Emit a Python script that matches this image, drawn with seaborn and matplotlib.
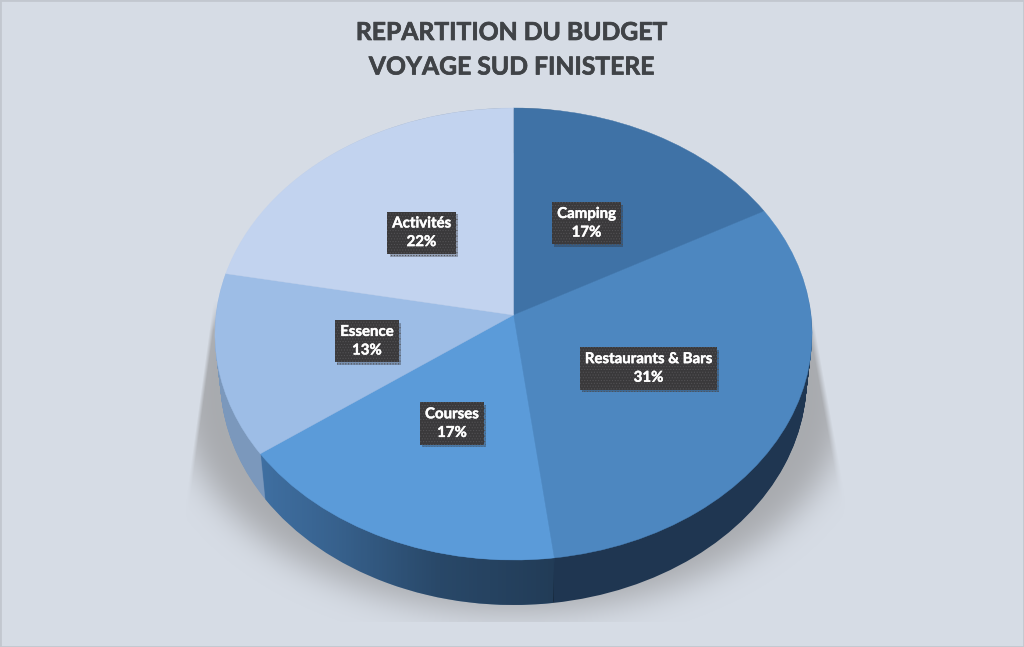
import numpy as np
import matplotlib
matplotlib.use("Agg")
import matplotlib.pyplot as plt
import matplotlib.patheffects as pe
from matplotlib.path import Path
from matplotlib.patches import PathPatch, Rectangle
from matplotlib.transforms import Transform
import seaborn as sns

title_lines = ["REPARTITION DU BUDGET", "VOYAGE SUD FINISTERE"]
categories = ["Camping", "Restaurants & Bars", "Courses", "Essence", "Activités"]
values = [17, 31, 17, 13, 22]
top_colors = ["#3f72a6", "#4d87c0", "#5b9bd9", "#9dbde6", "#c2d3ef"]
side_colors = ["#1f3651", "#1f3651", "#3f6fa1", "#7b98bc", "#a0b4cf"]

sns.set_theme(style="white")
plt.rcParams["font.family"] = ["Lato", "DejaVu Sans"]
plt.rcParams["hatch.linewidth"] = 0.5

BG = "#d6dce5"
W, H = 1024, 647
fig = plt.figure(figsize=(W / 100, H / 100), dpi=100, facecolor=BG)
ax = fig.add_axes([0, 0, 1, 1])
ax.set_axis_off()


class Persp(Transform):
    """Tilted-disc projection: unit pie -> image pixels."""
    input_dims = output_dims = 2
    is_separable = False
    has_inverse = False

    def __init__(self, dy=0.0, sx=1.0):
        super().__init__()
        self.dy, self.sx = dy, sx

    def transform_non_affine(self, v):
        v = np.asarray(v, float)
        w = 1 + 0.0841 * v[:, 1]
        return np.column_stack([513.5 + 297.5 * self.sx * v[:, 0] / w,
                                315 + self.dy - 224.4 * v[:, 1] / w])


top = Persp()
DEPTH = 45
SHRINK = 0.018

# soft ground shadow, cut by slanted edges at both sides
yy, xx = np.mgrid[0:H, 0:W]
mask = (((xx - 513) / 335.0) ** 2 + ((yy - 392) / 220.0) ** 2 < 1).astype(float)
k = np.ones(31) / 31
for _ in range(3):
    mask = np.apply_along_axis(lambda r: np.convolve(r, k, "same"), 0, mask)
    mask = np.apply_along_axis(lambda r: np.convolve(r, k, "same"), 1, mask)
left_edge = 213 - (yy - 300) * 0.138
right_edge = 815 + (yy - 330) * 0.18
mask *= np.clip((xx - left_edge) / 4, 0, 1) * np.clip((right_edge - xx) / 6, 0, 1)
mask *= np.clip((yy - 300) / 30.0, 0, 1)
mask[yy > 621] = 0
rgba = np.zeros((H, W, 4))
rgba[..., :3] = matplotlib.colors.to_rgb("#a6a8ac")
rgba[..., 3] = mask * 0.95
ax.imshow(rgba, extent=(0, W, H, 0), aspect="auto", zorder=0, interpolation="bilinear")

# side wall: stacked copies of the pie
for i in range(DEPTH, 0, -1):
    t = i / DEPTH
    wedges, _ = ax.pie(values, colors=sns.color_palette(side_colors), startangle=90,
                       counterclock=False, wedgeprops={"linewidth": 0})
    tr = Persp(dy=i, sx=1 - SHRINK * t)
    for w in wedges:
        w.set_transform(tr + ax.transData)
        w.set_zorder(2)

# darkening along the Courses wall
theta = np.linspace(0, 2 * np.pi, 361)
circ = np.column_stack([np.sin(theta), np.cos(theta)])
bottom_tr = Persp(dy=DEPTH, sx=1 - SHRINK)
low = bottom_tr.transform(circ)
up = top.transform(circ)
a = np.cumsum([0] + values) / 100.0
edge_ang = a * 2 * np.pi
edge_x = bottom_tr.transform(np.column_stack([np.sin(edge_ang), np.cos(edge_ang)]))[:, 0]
x0, x1 = edge_x[3] - 4, edge_x[2]
grad = np.interp(np.linspace(0, 1, 300), [0, .25, .6, 1], [0, .12, .35, .46])
gimg = np.zeros((1, 300, 4))
gimg[..., 3] = grad
im = ax.imshow(gimg, extent=(x0, x1, H, 0), aspect="auto", zorder=3)
side_clip = PathPatch(Path(np.vstack([low, up[::-1]])), transform=ax.transData,
                      fc="none", ec="none")
ax.add_patch(side_clip)
im.set_clip_path(side_clip)

# top face
wedges, _ = ax.pie(values, colors=sns.color_palette(top_colors), startangle=90,
                   counterclock=False, wedgeprops={"linewidth": 0.3})
for w, c in zip(wedges, top_colors):
    w.set_transform(top + ax.transData)
    w.set_edgecolor(c)
    w.set_zorder(4)

ax.set_aspect("auto")
ax.set_xlim(0, W)
ax.set_ylim(H, 0)

# data labels at half radius on each slice's mid-angle
mids = (a[:-1] + a[1:]) / 2 * 2 * np.pi
pts = top.transform(np.column_stack([0.5 * np.sin(mids), 0.5 * np.cos(mids)]))
for (px, py), name, v in zip(pts, categories, values):
    t = ax.text(px, py + 1.5, f"{name}\n{v}%", ha="center", va="center", color="white",
                fontsize=10.8, fontweight="bold", linespacing=1.42, zorder=7,
                bbox=dict(boxstyle="square,pad=0.32", facecolor="#3a393b",
                          edgecolor="#525154", linewidth=0, hatch="......"),
                path_effects=[pe.withStroke(linewidth=0.3, foreground="white")])
    t.get_bbox_patch().set_path_effects([
        pe.SimplePatchShadow(offset=(1.5, -2.0), shadow_rgbFace="#20242c", alpha=0.3),
        pe.Normal()])

for line, y in zip(title_lines, [32.5, 67]):
    ax.text(512, y, line, ha="center", va="center", color="#404347",
            fontsize=17.8, fontweight="bold", zorder=8,
            path_effects=[pe.withStroke(linewidth=0.5, foreground="#404347")])

ax.add_patch(Rectangle((0, 0), W, H, fc="none", ec="#c2c7cf", lw=2, zorder=9))

fig.savefig("out.png", dpi=100, facecolor=BG)
